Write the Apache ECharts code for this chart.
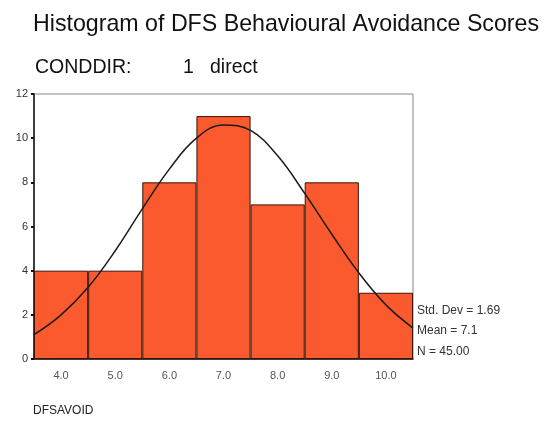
<!DOCTYPE html>
<html>
<head>
<meta charset="utf-8">
<script src="https://cdn.jsdelivr.net/npm/echarts@6/dist/echarts.min.js"></script>
<style>
  html, body { margin: 0; padding: 0; background: #fff; }
  #chart { width: 547px; height: 424px; }
</style>
</head>
<body>
<div id="chart"></div>
<script>
// histogram bins (midpoints) and counts
const categories = ['4.0', '5.0', '6.0', '7.0', '8.0', '9.0', '10.0']
const counts = [4, 4, 8, 11, 7, 8, 3]

// normal curve
const curveX = [3.5, 4.0, 4.5, 5.0, 5.5, 6.0, 6.5, 7.0, 7.5, 8.0, 8.5, 9.0, 9.5, 10.0, 10.5]
const curveY = [1.1, 2.0, 3.25, 4.9, 6.8, 8.6, 10.0, 10.6, 10.35, 9.2, 7.5, 5.65, 3.9, 2.45, 1.4]

const yTicks = [0, 2, 4, 6, 8, 10, 12]
const stats = ['Std. Dev = 1.69', 'Mean = 7.1', 'N = 45.00']

const font = 'Arial, "Liberation Sans", sans-serif'
const ec = echarts.init(document.getElementById('chart'))

const label = (text, left, top, size, color) => ({
    text, left, top,
    textStyle: { fontSize: size, fontWeight: 'normal', color, fontFamily: font }
})

ec.setOption({
    animation: false,
    textStyle: { fontFamily: font },
    title: [
        label('Histogram of DFS Behavioural Avoidance Scores', 28, 8, 23.2, '#111'),
        label('CONDDIR:', 30, 53, 19.5, '#111'),
        label('1', 178, 53, 19.5, '#111'),
        label('direct', 205, 53, 19.5, '#111'),
        label('DFSAVOID', 28, 400, 12, '#222'),
        {
            text: stats.join('\n'),
            left: 412, top: 295,
            textStyle: { fontSize: 12, fontWeight: 'normal', color: '#333', lineHeight: 20.5, fontFamily: font }
        }
    ],
    grid: {
        left: 34, right: 134, top: 94, bottom: 65,
        show: true, borderColor: '#888', borderWidth: 1
    },
    xAxis: [
        {
            type: 'category',
            data: categories,
            boundaryGap: true,
            axisLine: { lineStyle: { color: '#111', width: 1.5 } },
            axisTick: { alignWithLabel: true, length: 3, lineStyle: { color: '#111', width: 2 } },
            axisLabel: { color: '#555', fontSize: 11, margin: 11 }
        },
        {
            type: 'value',
            min: 3.5, max: 10.5,
            show: false
        }
    ],
    yAxis: {
        type: 'value',
        min: 0, max: 12, interval: 2,
        axisLine: { show: true, lineStyle: { color: '#111', width: 1.5 } },
        axisTick: { show: true, length: 3, lineStyle: { color: '#111', width: 2 } },
        axisLabel: {
            color: '#333', fontSize: 11, margin: 6,
            formatter: v => yTicks.includes(v) ? String(v) : ''
        },
        splitLine: { show: false }
    },
    series: [
        {
            type: 'bar',
            data: counts,
            barCategoryGap: '0%',
            itemStyle: { color: '#fb5a2e', borderColor: '#3a1208', borderWidth: 1 }
        },
        {
            type: 'line',
            xAxisIndex: 1,
            data: curveX.map((x, i) => [x, curveY[i]]),
            smooth: 0.4,
            symbol: 'none',
            lineStyle: { color: '#1a1a1a', width: 1.5 },
            z: 5
        }
    ]
})
</script>
</body>
</html>
